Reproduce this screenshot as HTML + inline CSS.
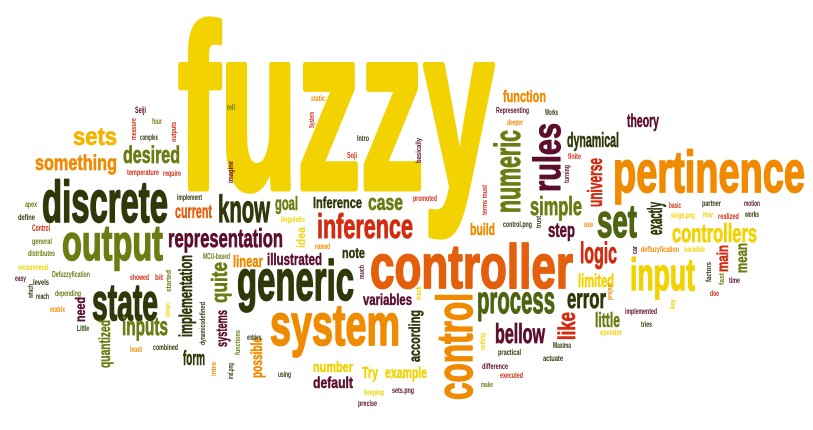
<!DOCTYPE html>
<html><head><meta charset="utf-8">
<style>
html,body{margin:0;padding:0;background:#fff;}
svg{display:block;}
text{font-family:"Liberation Sans Narrow","Liberation Sans",sans-serif;font-weight:bold;}
</style></head>
<body>
<svg id="cloud" width="813" height="430" viewBox="0 0 813 430" xmlns="http://www.w3.org/2000/svg">
<rect width="813" height="430" fill="#fff"/>
</svg>
<script>
const Y='#f2d200',YO='#f3b500',O='#f08a00',OR='#e45f0c',R='#d12c12',M='#5c0f2d',G='#3d4b0b',OL='#6b7c12',DG='#2e3809',PG='#4f6410';
// words: text, x(left or right-edge if vertical), baseline / bottom y, font size, length, color, vertical
const words=[
['fuzzy',178,188,232,316,Y,0],
['controller',370,288,62,203,OR,0],
['pertinence',613,192,58,192,O,0],
['system',270,345,58,130,O,0],
['generic',237,300,57,117,DG,0],
['discrete',42,222,58,126,DG,0],
['output',62,260,50,101,OL,0],
['state',92,320,52,66,DG,0],
['control',472,400,50,107,O,1],
['inference',317,238,34,96,R,0],
['process',477,313,38,78,PG,0],
['input',630,290,45,65,Y,0],
['rules',560,192,38,69,M,1],
['numeric',520,213,36,83,OL,1],
['set',597,237,46,40,PG,0],
['controllers',672,242,26,85,Y,0],
['logic',580,263,30,37,R,0],
['error',567,308,28,39,DG,0],
['like',575,340,24,28,R,1],
['little',595,327,20,25,OL,0],
['limited',578,287,18,36,Y,0],
['bellow',495,343,28,50,M,0],
['simple',530,215,26,52,OL,0],
['step',548,237,20,27,M,0],
['exactly',662,235,20,33,DG,1],
['universe',602,207,20,49,R,1],
['dynamical',567,147,20,52,DG,0],
['theory',627,127,18,32,M,0],
['function',503,102,17,43,O,0],
['main',728,272,16,27,R,1],
['mean',747,273,16,30,OL,1],
['sets',73,145,25,44,YO,0],
['something',35,170,21,82,O,0],
['desired',123,163,24,57,OL,0],
['know',218,222,38,52,DG,0],
['representation',168,247,26,115,M,0],
['quite',227,303,22,41,OL,1],
['implementation',192,337,18,82,DG,1],
['inputs',122,335,26,46,OL,0],
['quantized',110,368,16,48,OL,1],
['linear',233,267,17,30,O,0],
['current',175,218,19,37,OR,0],
['form',183,365,20,22,DG,0],
['need',85,322,14,25,M,1],
['systems',227,347,16,37,M,1],
['possible',262,378,16,41,O,1],
['illustrated',267,265,17,55,M,0],
['goal',275,210,19,23,OL,0],
['Inference',313,208,16,49,DG,0],
['case',368,210,22,35,OL,0],
['note',342,258,15,23,DG,0],
['variables',363,305,16,49,M,0],
['according',420,362,16,52,DG,1],
['number',313,372,15,40,Y,0],
['default',313,388,16,40,M,0],
['Try',362,378,16,16,Y,0],
['example',385,378,16,42,Y,0],
['build',470,235,17,25,O,0]
];
const small=[
['Seiji',135,113,9,11,M,0],['four',152,124,8,10,OL,0],['complex',140,140,8,18,DG,0],
['measure',136,140,7,22,R,1],['outputs',176,142,7,20,R,1],['temperature',127,175,8,32,R,0],
['require',163,176,8,18,R,0],['implement',177,200,8,25,DG,0],['apex',25,207,8,12,OL,0],
['define',18,220,8,17,DG,0],['Control',32,231,9,18,R,0],['general',32,244,8,20,OL,0],
['distributes',28,256,8,27,OL,0],['recommend',18,270,8,30,Y,0],['easy',15,281,8,11,M,0],
['levels',33,285,8,16,DG,0],['Defuzzyfication',52,277,8,38,OL,0],['which',33,298,7,14,DG,1],
['reach',36,299,8,13,DG,0],['depending',55,296,8,26,OL,0],['matrix',50,312,8,15,O,0],
['Little',77,331,8,12,DG,0],['least',130,352,8,12,O,0],['combined',153,350,8,25,DG,0],
['showed',130,280,8,19,R,0],['bit',155,280,8,8,R,0],['started',171,292,7,22,OL,1],
['shown',170,317,7,14,Y,1],['defined',205,322,7,20,DG,1],['dynamics',205,345,7,23,DG,1],
['MCU-based',203,259,8,27,OL,0],['entries',247,340,8,14,DG,0],['functions',240,355,7,25,OL,1],
['intro',216,376,7,14,O,1],['ind.png',233,379,7,16,DG,1],['tell',227,110,8,8,OL,0],
['imagine',233,183,7,22,M,1],['comfortable',242,155,7,34,Y,1],['static',311,101,8,14,O,0],
['System',314,128,7,16,R,1],['Intro',357,141,8,12,DG,0],['Soji',347,158,8,10,R,0],
['basically',421,163,7,25,M,1],['promoted',413,201,8,24,R,0],['terms must',487,215,7,30,R,1],
['control.png',503,227,8,29,DG,0],['trust',541,228,7,12,DG,1],['linguistic',281,222,8,24,Y,0],
['idea',305,248,12,21,Y,1],['named',315,249,8,15,O,0],['much',364,279,7,14,M,1],
['track',421,300,7,14,Y,1],['keeping',364,395,8,20,Y,0],['sets.png',392,393,8,22,M,0],
['precise',358,406,8,19,M,0],['using',278,377,8,13,DG,0],['Representing',496,113,8,33,M,0],
['Works',545,115,8,13,DG,0],['deeper',507,125,8,16,O,0],['finite',568,159,8,13,R,0],
['turning',569,183,7,18,M,1],['use',584,227,8,9,O,0],['basic',669,208,8,12,R,0],
['partner',702,206,8,19,DG,0],['motion',744,206,8,16,M,0],['singe.png',671,218,8,24,Y,0],
['may',703,217,8,10,Y,0],['realized',718,219,8,21,R,0],['works',745,217,8,14,DG,0],
['car',637,254,7,8,M,1],['deffuzyfication',641,252,8,38,O,0],['variable',684,252,8,21,Y,0],
['factors',711,282,7,20,DG,1],['fast',724,285,7,12,OL,1],['time',729,283,8,11,M,0],
['doe',710,296,8,9,R,0],['key',675,309,7,10,Y,1],['project',612,300,7,17,O,1],
['implemented',625,314,8,32,M,0],['tries',641,327,8,11,DG,0],['operator',600,335,8,22,Y,0],
['nothing',485,350,7,17,Y,1],['practical',498,355,8,23,DG,0],['Maxima',553,348,8,18,DG,0],
['actuate',543,361,8,20,DG,0],['difference',482,369,8,26,M,0],['executed',500,378,8,23,R,0],
['make',481,387,7,12,OL,0]
];
const svg=document.getElementById('cloud');
const NS='http://www.w3.org/2000/svg';
function draw(list){
  for(const w of list){
    const t=document.createElementNS(NS,'text');
    t.textContent=w[0];
    t.setAttribute('font-size',w[3]);
    t.setAttribute('fill',w[5]);
    if(w[3]>=14){
      t.setAttribute('stroke',w[5]);
      t.setAttribute('stroke-width',(w[3]*0.03).toFixed(2));
      t.setAttribute('stroke-linejoin','round');
    }
    t.setAttribute('textLength',w[4]);
    t.setAttribute('lengthAdjust','spacingAndGlyphs');
    if(w[6]){
      t.setAttribute('x',0);t.setAttribute('y',0);
      t.setAttribute('transform','translate('+w[1]+','+w[2]+') rotate(-90)');
    } else {
      t.setAttribute('x',w[1]);t.setAttribute('y',w[2]);
    }
    
    
    svg.appendChild(t);
  }
}
draw(words);
draw(small);
</script>
</body></html>
